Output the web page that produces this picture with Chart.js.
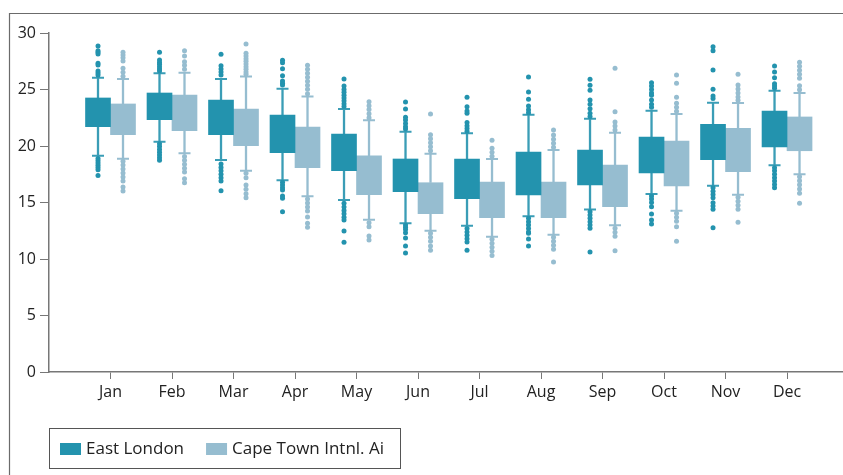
<!DOCTYPE html>
<html>
<head>
<meta charset="utf-8">
<script src="https://cdn.jsdelivr.net/npm/chart.js@4/dist/chart.umd.min.js"></script>
<style>
  html, body { margin: 0; padding: 0; background: #fff; }
  #wrap { width: 843px; height: 475px; position: relative; }
</style>
</head>
<body>
<div id="wrap"><canvas id="c" width="843" height="475"></canvas></div>
<script>
// Monthly temperature distributions (°C) for two stations
const months = ['Jan', 'Feb', 'Mar', 'Apr', 'May', 'Jun', 'Jul', 'Aug', 'Sep', 'Oct', 'Nov', 'Dec'];
const seriesNames = ['East London', 'Cape Town Intnl. Ai'];
const yTicks = [0, 5, 10, 15, 20, 25, 30];

// East London: quartiles, whisker ends, outliers
const elQ1 = [21.71, 22.33, 21.00, 19.41, 17.82, 15.96, 15.34, 15.66, 16.55, 17.61, 18.79, 19.91];
const elQ3 = [24.25, 24.69, 24.07, 22.74, 21.06, 18.85, 18.85, 19.47, 19.65, 20.80, 21.92, 23.10];
const elLow = [19.14, 20.38, 18.76, 16.96, 15.22, 13.16, 12.95, 13.78, 14.37, 15.75, 16.49, 18.29];
const elHigh = [26.04, 26.43, 25.93, 25.07, 23.27, 21.27, 21.12, 22.77, 22.42, 23.13, 23.83, 24.90];
const elOutliers = [
  [28.85, 28.43, 28.3, 28.14, 27.32, 27.17, 26.64, 26.46, 26.28, 18.9, 18.7, 18.5, 18.3, 18.1, 17.9, 17.4],
  [28.29, 27.61, 27.4, 27.23, 27.02, 26.81, 26.64, 20.2, 19.95, 19.7, 19.45, 19.2, 18.95, 18.75],
  [28.11, 27.1, 26.81, 26.55, 26.28, 18.41, 18.1, 17.8, 17.5, 17.2, 16.9, 16.04],
  [27.58, 27.37, 26.84, 26.22, 25.75, 25.55, 25.4, 16.8, 16.55, 16.3, 16.1, 15.58, 15.37, 14.19],
  [25.93, 25.3, 25.0, 24.75, 24.5, 24.25, 24.0, 23.75, 23.5, 14.93, 14.6, 14.3, 14.0, 13.7, 13.45, 12.48, 11.48],
  [23.89, 23.27, 22.54, 22.3, 22.0, 21.7, 21.5, 13.0, 12.8, 12.6, 12.33, 11.86, 11.15, 10.53],
  [24.31, 23.48, 23.1, 22.9, 22.07, 21.8, 21.55, 21.3, 12.7, 12.4, 12.1, 11.8, 11.5, 10.77],
  [26.11, 24.78, 24.13, 23.54, 23.2, 22.95, 13.6, 13.3, 13.0, 12.7, 12.4, 12.27, 11.77, 11.15],
  [25.9, 25.37, 24.93, 24.07, 23.7, 23.3, 22.9, 22.6, 14.19, 13.9, 13.6, 13.3, 13.0, 12.72, 10.62],
  [25.6, 25.3, 25.0, 24.7, 24.5, 24.07, 23.7, 23.42, 15.58, 15.3, 15.0, 14.63, 13.98, 13.45, 13.1],
  [28.79, 28.43, 26.73, 25.02, 24.42, 24.2, 16.31, 16.0, 15.7, 15.43, 14.98, 14.69, 14.4, 12.77],
  [27.08, 26.55, 26.04, 25.51, 25.3, 25.1, 18.08, 17.8, 17.5, 17.2, 16.9, 16.6, 16.31]
];

// Cape Town Intnl.: quartiles, whisker ends, outliers
const ctQ1 = [21.00, 21.36, 20.03, 18.08, 15.69, 14.01, 13.66, 13.66, 14.63, 16.46, 17.73, 19.58];
const ctQ3 = [23.72, 24.51, 23.27, 21.68, 19.12, 16.75, 16.81, 16.81, 18.32, 20.44, 21.56, 22.57];
const ctLow = [18.88, 19.35, 17.82, 15.55, 13.48, 12.50, 11.98, 12.15, 12.98, 14.28, 15.69, 17.50];
const ctHigh = [25.93, 26.49, 26.14, 24.39, 22.27, 19.32, 18.85, 19.65, 21.18, 22.83, 23.81, 24.69];
const ctOutliers = [
  [28.29, 28.05, 27.81, 27.52, 26.88, 26.52, 26.17, 18.64, 18.32, 17.96, 17.61, 17.26, 16.9, 16.37, 16.02],
  [28.43, 27.96, 27.46, 27.14, 26.79, 19.08, 18.73, 18.38, 18.03, 17.7, 17.11, 16.75],
  [29.03, 28.2, 27.96, 27.73, 27.49, 27.26, 27.02, 26.79, 26.55, 26.35, 17.58, 17.2, 16.55, 16.17, 15.78, 15.43],
  [27.14, 26.79, 26.43, 26.08, 25.72, 25.37, 25.02, 24.63, 15.31, 14.96, 14.6, 14.25, 13.72, 13.16, 12.8],
  [23.92, 23.57, 23.22, 22.86, 22.51, 13.21, 12.86, 12.04, 11.68],
  [22.83, 21.0, 20.65, 20.29, 19.94, 19.58, 12.27, 11.92, 11.56, 11.15, 10.77],
  [20.5, 19.8, 19.44, 19.09, 11.74, 11.39, 11.03, 10.68, 10.32],
  [21.42, 20.97, 20.59, 20.24, 19.88, 11.92, 11.56, 11.21, 10.86, 9.73],
  [26.87, 23.04, 22.12, 21.77, 21.42, 12.72, 12.36, 12.01, 10.74],
  [26.28, 25.55, 24.31, 23.78, 23.42, 23.07, 14.04, 13.69, 13.34, 12.86, 11.57],
  [26.34, 25.4, 25.04, 24.69, 24.34, 24.04, 15.46, 15.1, 14.75, 14.4, 13.25],
  [27.41, 27.05, 26.7, 26.34, 25.99, 25.34, 24.98, 17.28, 16.93, 16.58, 16.19, 15.81, 14.93]
];

const FONT = 'Open Sans';
const boxColors = ['#2393ae', '#96bdd0'];
const whiskerColors = ['#3a9db6', '#96bdd0'];
const stats = [
  { q1: elQ1, q3: elQ3, low: elLow, high: elHigh, out: elOutliers },
  { q1: ctQ1, q3: ctQ3, low: ctLow, high: ctHigh, out: ctOutliers }
];

// Whiskers, caps and outlier dots, positioned from each bar element and the y scale
const boxExtras = {
  id: 'boxExtras',
  beforeDatasetsDraw(chart) {
    const ctx = chart.ctx;
    const ys = chart.scales.y;
    ctx.save();
    stats.forEach((s, d) => {
      const meta = chart.getDatasetMeta(d);
      meta.data.forEach((bar, i) => {
        const x = bar.x;
        const yLo = ys.getPixelForValue(s.low[i]);
        const yHi = ys.getPixelForValue(s.high[i]);
        const yQ1 = ys.getPixelForValue(s.q1[i]);
        const yQ3 = ys.getPixelForValue(s.q3[i]);
        ctx.strokeStyle = whiskerColors[d];
        ctx.lineWidth = 2.3;
        ctx.beginPath();
        ctx.moveTo(x, yLo); ctx.lineTo(x, yQ1);
        ctx.moveTo(x, yQ3); ctx.lineTo(x, yHi);
        ctx.stroke();
        ctx.lineWidth = 2;
        ctx.beginPath();
        ctx.moveTo(x - 6, yLo); ctx.lineTo(x + 6, yLo);
        ctx.moveTo(x - 6, yHi); ctx.lineTo(x + 6, yHi);
        ctx.stroke();
        ctx.fillStyle = boxColors[d];
        s.out[i].forEach(v => {
          ctx.beginPath();
          ctx.arc(x, ys.getPixelForValue(v), 2.5, 0, Math.PI * 2);
          ctx.fill();
        });
      });
    });
    ctx.restore();
  }
};

// Outer frame and boxed legend
const frameAndLegend = {
  id: 'frameAndLegend',
  beforeDraw(chart) {
    const ctx = chart.ctx;
    ctx.save();
    ctx.strokeStyle = '#6b6b6b';
    ctx.lineWidth = 1.2;
    ctx.beginPath();
    ctx.moveTo(9.5, chart.height);
    ctx.lineTo(9.5, 13.5);
    ctx.lineTo(chart.width, 13.5);
    ctx.stroke();
    ctx.restore();
  },
  afterDraw(chart) {
    const ctx = chart.ctx;
    ctx.save();
    ctx.strokeStyle = '#555';
    ctx.lineWidth = 1;
    ctx.strokeRect(49.5, 428.5, 351, 40);
    ctx.font = '17px "' + FONT + '"';
    ctx.textBaseline = 'middle';
    let x = 60;
    seriesNames.forEach((name, d) => {
      ctx.fillStyle = boxColors[d];
      ctx.fillRect(x, 443, 21, 12);
      ctx.fillStyle = '#222';
      ctx.fillText(name, x + 26, 449);
      x += 26 + ctx.measureText(name).width + 22;
    });
    ctx.restore();
  }
};

new Chart(document.getElementById('c'), {
  type: 'bar',
  data: {
    datasets: seriesNames.map((name, d) => ({
      label: name,
      data: months.map((m, i) => ({ x: i + 1, y: [stats[d].q1[i], stats[d].q3[i]] })),
      backgroundColor: boxColors[d],
      borderWidth: 0,
      barThickness: 25
    }))
  },
  options: {
    responsive: false,
    animation: false,
    layout: { padding: { top: 33, left: 0, right: 0, bottom: 63 } },
    plugins: { legend: { display: false }, tooltip: { enabled: false } },
    scales: {
      x: {
        type: 'linear',
        min: 0,
        max: 12.91,
        offset: false,
        afterBuildTicks: s => { s.ticks = months.map((m, i) => ({ value: i + 1 })); },
        ticks: {
          callback: v => months[v - 1],
          font: { family: FONT, size: 16 },
          color: '#222',
          padding: 4,
          maxRotation: 0,
          autoSkip: false
        },
        grid: { drawOnChartArea: false, drawTicks: true, tickLength: 7, color: '#777', offset: false },
        border: { color: '#777', width: 1.5 },
        afterFit: s => { s.height = 40; }
      },
      y: {
        min: 0,
        max: 30,
        afterBuildTicks: s => { s.ticks = yTicks.map(v => ({ value: v })); },
        ticks: {
          font: { family: FONT, size: 16 },
          color: '#222',
          padding: 4
        },
        grid: { drawOnChartArea: false, drawTicks: true, tickLength: 9, color: '#777' },
        border: { color: '#777', width: 1.5 },
        afterFit: s => { s.width = 49; }
      }
    }
  },
  plugins: [boxExtras, frameAndLegend]
});
</script>
</body>
</html>
